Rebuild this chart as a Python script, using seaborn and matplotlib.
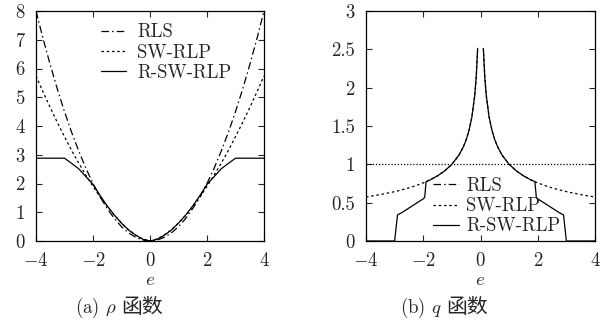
#!/usr/bin/env python3
# -*- coding: utf-8 -*-

import pandas as pd
import matplotlib
matplotlib.use("Agg")
import matplotlib.pyplot as plt
import seaborn as sns

# ---- data ----
e_rho = [-4, -3.75, -3.5, -3.25, -3, -2.75, -2.5, -2.25, -2, -1.75, -1.5,
         -1.25, -1, -0.75, -0.5, -0.25, 0, 0.25, 0.5, 0.75, 1, 1.25, 1.5,
         1.75, 2, 2.25, 2.5, 2.75, 3, 3.25, 3.5, 3.75, 4]
rho_rls = [8.0, 7.03, 6.13, 5.28, 4.5, 3.78, 3.13, 2.53, 2.0, 1.53, 1.13,
           0.78, 0.5, 0.28, 0.13, 0.03, 0.0, 0.03, 0.13, 0.28, 0.5, 0.78,
           1.13, 1.53, 2.0, 2.53, 3.13, 3.78, 4.5, 5.28, 6.13, 7.03, 8.0]
rho_sw = [5.74, 5.18, 4.64, 4.12, 3.63, 3.15, 2.71, 2.29, 1.90, 1.53, 1.20,
          0.89, 0.63, 0.39, 0.21, 0.07, 0.0, 0.07, 0.21, 0.39, 0.63, 0.89,
          1.20, 1.53, 1.90, 2.29, 2.71, 3.15, 3.63, 4.12, 4.64, 5.18, 5.74]
rho_rsw = [2.88, 2.88, 2.88, 2.88, 2.88, 2.70, 2.51, 2.24, 1.97, 1.58, 1.22,
           0.90, 0.62, 0.38, 0.20, 0.06, 0.0, 0.06, 0.20, 0.38, 0.62, 0.90,
           1.22, 1.58, 1.97, 2.24, 2.51, 2.70, 2.88, 2.88, 2.88, 2.88, 2.88]

# q function, negative and positive branches (undefined at e = 0)
e_q_neg = [-4, -3.75, -3.5, -3.25, -3, -2.9, -2.75, -2.5, -2.25, -2, -1.95,
           -1.9, -1.75, -1.5, -1.25, -1, -0.75, -0.6, -0.5, -0.4, -0.3, -0.2,
           -0.15, -0.1]
q_sw_neg = [0.574, 0.589, 0.606, 0.624, 0.644, 0.653, 0.667, 0.693, 0.723,
            0.758, 0.766, 0.774, 0.799, 0.850, 0.915, 1.0, 1.122, 1.227, 1.320,
            1.443, 1.619, 1.903, 2.136, 2.512]
q_rsw_neg = [0, 0, 0, 0, 0, 0.34, 0.37, 0.43, 0.49, 0.55, 0.57,
             0.774, 0.799, 0.850, 0.915, 1.0, 1.122, 1.227, 1.320,
             1.443, 1.619, 1.903, 2.136, 2.512]
q_rls = 1.0

xticks = [-4, -2, 0, 2, 4]
left_yticks = [0, 1, 2, 3, 4, 5, 6, 7, 8]
right_yticks = [0, 0.5, 1, 1.5, 2, 2.5, 3]
right_yticklabels = ["0", "0.5", "1", "1.5", "2", "2.5", "3"]
names = ["RLS", "SW-RLP", "R-SW-RLP"]

sns.set_style("ticks")
plt.rcParams["font.family"] = ["cmr10", "Noto Sans CJK SC"]
plt.rcParams["mathtext.fontset"] = "cm"
plt.rcParams["axes.formatter.use_mathtext"] = True
plt.rcParams["axes.unicode_minus"] = True

FS = 13.5
LW = 0.9
styles = {"RLS": (6, 2.5, 1.2, 2.5), "SW-RLP": (2, 2.2), "R-SW-RLP": ""}


def rho_frame():
    frames = []
    for name, vals in zip(names, [rho_rls, rho_sw, rho_rsw]):
        frames.append(pd.DataFrame({"e": e_rho, "v": vals, "method": name}))
    return pd.concat(frames, ignore_index=True)


def q_frame():
    e_pos = [-x for x in e_q_neg][::-1]
    frames = []
    for name, vals in [("SW-RLP", q_sw_neg), ("R-SW-RLP", q_rsw_neg)]:
        frames.append(pd.DataFrame({"e": e_q_neg, "v": vals, "method": name,
                                    "branch": 0}))
        frames.append(pd.DataFrame({"e": e_pos, "v": vals[::-1],
                                    "method": name, "branch": 1}))
    return pd.concat(frames, ignore_index=True)


def style_axes(ax, yticks, ylabels, ylim):
    ax.set_xlim(-4, 4)
    ax.set_ylim(*ylim)
    ax.set_xticks(xticks)
    ax.set_xticklabels([f"${t}$" for t in xticks], fontsize=FS)
    ax.set_yticks(yticks)
    ax.set_yticklabels(ylabels, fontsize=FS)
    ax.tick_params(direction="in", length=4, width=0.8, top=True,
                   right=True)
    ax.tick_params(axis="x", pad=8)
    ax.tick_params(axis="y", pad=8)
    for s in ax.spines.values():
        s.set_linewidth(0.9)
        s.set_color("black")
    ax.set_xlabel("$e$", fontsize=FS, labelpad=1)
    ax.set_ylabel("")


fig = plt.figure(figsize=(6.06, 3.24), dpi=100)
ax1 = fig.add_axes([36 / 606, 83 / 324, 228 / 606, 230 / 324])
ax2 = fig.add_axes([366 / 606, 83 / 324, 229 / 606, 230 / 324])

# (a) rho function
sns.lineplot(data=rho_frame(), x="e", y="v", style="method",
             dashes=styles, color="black", linewidth=LW, ax=ax1,
             estimator=None, sort=False, legend=False)
style_axes(ax1, left_yticks, [str(t) for t in left_yticks], (0, 8))
handles = ax1.get_lines()[:3]
ax1.legend(handles, names, loc="upper left", bbox_to_anchor=(0.26, 0.97),
           frameon=False, fontsize=FS, handlelength=1.35, handletextpad=0.6,
           labelspacing=0.12, borderpad=0.2, borderaxespad=0.1)

# (b) q function
ax2.axhline(q_rls, color="black", linewidth=LW, linestyle=(0, (1, 1.5)))
sns.lineplot(data=q_frame(), x="e", y="v", style="method", units="branch",
             dashes={"SW-RLP": styles["SW-RLP"], "R-SW-RLP": ""},
             color="black", linewidth=LW, ax=ax2, estimator=None,
             sort=False, legend=False)
style_axes(ax2, right_yticks, right_yticklabels, (0, 3))
ax2.legend(handles, names, loc="lower left", bbox_to_anchor=(0.27, 0.0),
           frameon=False, fontsize=FS, handlelength=1.35, handletextpad=0.4,
           labelspacing=0.12, borderpad=0.2, borderaxespad=0.1)

# captions
for x0, txt in [(75 / 606, "(a) $\\rho$"), (400 / 606, "(b) $q$")]:
    t1 = fig.text(x0, 0.035, txt, fontsize=FS, ha="left", va="baseline")
    ax1.annotate("函数", xy=(1, 0.035), xycoords=(t1, "figure fraction"),
                 xytext=(3, 0), textcoords="offset points", va="baseline",
                 fontsize=15, family="Noto Sans CJK SC",
                 annotation_clip=False)

fig.savefig("out.png", dpi=100)
